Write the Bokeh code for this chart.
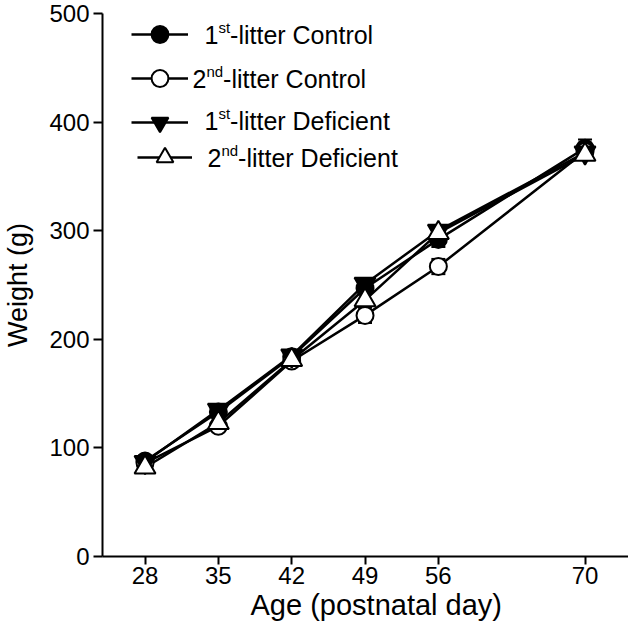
from bokeh.plotting import figure
from bokeh.models import (Range1d, FixedTicker, Whisker, TeeHead, ColumnDataSource,
                          Legend, LegendItem, Label, Title)
from bokeh.core.properties import value
from bokeh.embed import file_html
from bokeh.resources import INLINE

# ---------------- data ----------------
days = [28, 35, 42, 49, 56, 70]
x_ticks = [28, 35, 42, 49, 56, 70]
y_ticks = [0, 100, 200, 300, 400, 500]

ctrl_1st = [88, 133, 184, 247, 292, 376]
ctrl_1st_err = [3, 4, 4, 5, 7, 8]
ctrl_2nd = [86, 120, 180, 222, 267, 373]
ctrl_2nd_err = [3, 3, 4, 7, 7, 6]
def_1st = [87, 135, 185, 251, 300, 372]
def_1st_err = [3, 4, 4, 5, 5, 6]
def_2nd = [82, 123, 181, 236, 298, 370]
def_2nd_err = [3, 4, 4, 6, 5, 5]

x_title = "Age (postnatal day)"
y_title = "Weight (g)"

# legend texts: (main, superscript, rest)
legend_texts = [("1", "st", "-litter Control"),
                ("2", "nd", "-litter Control"),
                ("1", "st", "-litter Deficient"),
                ("2", "nd", "-litter Deficient")]

FONT = "Liberation Sans"

p = figure(width=628, height=628, x_range=Range1d(23.94, 74.15), y_range=Range1d(0, 500),
           output_backend="svg", toolbar_location=None,
           min_border_left=96, min_border_right=0, min_border_top=13, min_border_bottom=72)
p.outline_line_color = None
p.grid.visible = False
p.background_fill_color = "white"
p.border_fill_color = "white"

for ax in (p.xaxis[0], p.yaxis[0]):
    ax.axis_line_width = 2
    ax.axis_line_color = "black"
    ax.major_tick_line_width = 2
    ax.major_tick_line_color = "black"
    ax.major_tick_in = 0
    ax.minor_tick_line_color = None
    ax.major_label_text_font = FONT
    ax.major_label_text_font_size = "24px"
    ax.major_label_text_color = "black"
    ax.axis_label_text_font = FONT
    ax.axis_label_text_font_style = "normal"
    ax.axis_label_text_color = "black"

p.xaxis.ticker = FixedTicker(ticks=x_ticks)
p.yaxis.ticker = FixedTicker(ticks=y_ticks)
p.xaxis.major_tick_out = 8
p.yaxis.major_tick_out = 9
p.xaxis.major_label_standoff = 2
p.yaxis.major_label_standoff = 4
p.yaxis.axis_label = y_title
p.yaxis.axis_label_text_font_size = "27px"
p.yaxis.axis_label_standoff = 13

FRAME_LEFT = 102    # picture x of the frame's left edge
FRAME_BOTTOM = 556  # picture y of the frame's bottom edge

# x-axis title placed below the axis, starting where the reference starts it
xt = Title(text=x_title, align="left", offset=250 - FRAME_LEFT, standoff=0,
           text_font=FONT, text_font_size="29px", text_font_style="normal",
           text_color="black")
p.add_layout(xt, "below")

series = [
    (ctrl_1st, ctrl_1st_err, "circle", "black", 17),
    (ctrl_2nd, ctrl_2nd_err, "circle", "white", 17),
    (def_1st, def_1st_err, "inverted_triangle", "black", 21),
    (def_2nd, def_2nd_err, "triangle", "white", 21),
]

line_rs = []
for vals, err, mk, fc, sz in series:
    r = p.line(days, vals, line_color="black", line_width=2.5)
    line_rs.append(r)

for vals, err, mk, fc, sz in series:
    src = ColumnDataSource(dict(x=days, upper=[v + e for v, e in zip(vals, err)],
                                lower=[v - e for v, e in zip(vals, err)]))
    w = Whisker(base="x", upper="upper", lower="lower", source=src, dimension="height",
                line_color="black", line_width=2,
                upper_head=TeeHead(size=14, line_width=2, line_color="black"),
                lower_head=TeeHead(size=14, line_width=2, line_color="black"))
    p.add_layout(w)

scatter_rs = []
for vals, err, mk, fc, sz in series:
    r = p.scatter(days, vals, marker=mk, size=sz, fill_color=fc, line_color="black",
                  line_width=2)
    scatter_rs.append(r)

items = [LegendItem(label=value(" "), renderers=[line_rs[i], scatter_rs[i]]) for i in range(4)]


def legend_common(lg):
    lg.glyph_width = 57
    lg.glyph_height = 42
    lg.label_width = 0
    lg.label_height = 0
    lg.label_standoff = 0
    lg.label_text_font_size = "1px"
    lg.padding = 0
    lg.margin = 0
    lg.spacing = 2
    lg.border_line_color = None
    lg.background_fill_alpha = 0


leg1 = Legend(items=items[:3], location=(131 - FRAME_LEFT, FRAME_BOTTOM - 143))
legend_common(leg1)
leg2 = Legend(items=items[3:], location=(137 - FRAME_LEFT, FRAME_BOTTOM - 178))
legend_common(leg2)
leg2.glyph_width = 55
p.add_layout(leg1)
p.add_layout(leg2)

# legend text positions (picture x origin, picture y of text middle)
MAIN_PX = 25
SUP_PX = 15
text_pos = [(204, 34), (192, 78), (204, 120), (207, 157)]
for (main, sup, rest), (px, py) in zip(legend_texts, text_pos):
    sx = px - FRAME_LEFT
    sy = FRAME_BOTTOM - py
    w_main = 0.556 * MAIN_PX
    w_sup = (0.778 if sup == "st" else 1.112) * SUP_PX
    common = dict(x_units="screen", y_units="screen", text_font=FONT,
                  text_baseline="middle", text_align="left", text_color="black")
    p.add_layout(Label(x=sx, y=sy, text=main, text_font_size=f"{MAIN_PX}px", **common))
    p.add_layout(Label(x=sx + w_main, y=sy + 7, text=sup, text_font_size=f"{SUP_PX}px", **common))
    p.add_layout(Label(x=sx + w_main + w_sup, y=sy, text=rest,
                       text_font_size=f"{MAIN_PX}px", **common))

open("out.html", "w").write(file_html(p, INLINE))
